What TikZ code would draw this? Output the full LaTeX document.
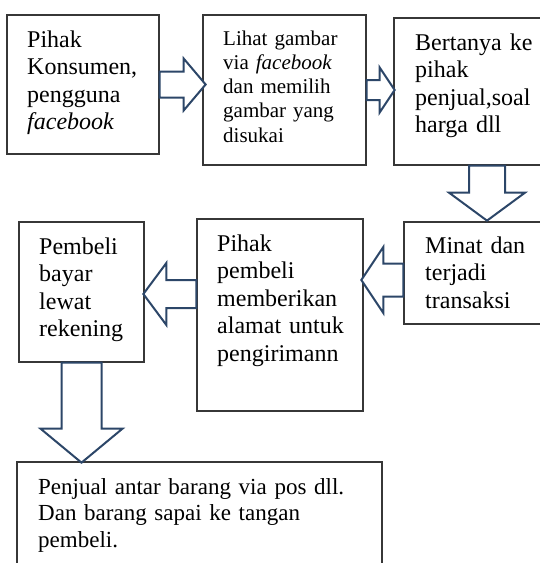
\documentclass[tikz,border=0pt]{standalone}
\usepackage{fontspec}
\setmainfont{Liberation Serif}
\definecolor{arrowblue}{RGB}{44,70,104}
\definecolor{boxgray}{RGB}{55,55,55}
\begin{document}
\begin{tikzpicture}[x=1pt,y=-1pt,
  box/.style={draw=boxgray, line width=1.3pt, fill=white, rectangle, inner sep=0pt},
  txt/.style={anchor=base west, inner sep=0pt, align=left, text width=200pt,
    font=\fontsize{24}{27.5}\selectfont},
  smalltxt/.style={txt, font=\fontsize{21}{24.25}\selectfont},
  blockarrow/.style={draw=arrowblue, line width=2pt, fill=white, line join=miter}]
\useasboundingbox (0,0) rectangle (540,563);
\clip (0,0) rectangle (540,563);

% boxes
\node[box, minimum width=152pt, minimum height=139pt] (b1) at (83,84.5) {};
\node[box, minimum width=163pt, minimum height=150pt] (b2) at (284.5,90) {};
\node[box, minimum width=186pt, minimum height=147pt] (b3) at (487,91.5) {};
\node[box, minimum width=176pt, minimum height=102pt] (b4) at (492,273) {};
\node[box, minimum width=166pt, minimum height=192pt] (b5) at (280,315) {};
\node[box, minimum width=125pt, minimum height=140pt] (b6) at (81.5,292) {};
\node[box, minimum width=365pt, minimum height=138pt] (b7) at (199.5,531) {};

% texts
\node[txt] (t1) at (27,47) {Pihak\\Konsumen,\\pengguna\\\textit{facebook}};
\node[smalltxt] (t2) at (223,45) {Lihat gambar\\via \textit{facebook}\\dan memilih\\gambar yang\\disukai};
\node[txt] (t3) at (415,50) {Bertanya ke\\pihak\\penjual,soal\\harga dll};
\node[txt] (t4) at (425,253) {Minat dan\\terjadi\\transaksi};
\node[txt] (t5) at (217,251) {Pihak\\pembeli\\memberikan\\alamat untuk\\pengirimann};
\node[txt] (t6) at (39,254) {Pembeli\\bayar\\lewat\\rekening};
\node[txt, text width=340pt, font=\fontsize{23}{26.8}\selectfont] (t7) at (38,494) {Penjual antar barang via pos dll.\\Dan barang sapai ke tangan\\pembeli.};

% block arrows
\begin{scope}[shift={(b1.east)}]
  \draw[blockarrow] (0,-13) -- (24,-13) -- (24,-26) -- (46,0) -- (24,26) -- (24,13) -- (0,13) -- cycle;
\end{scope}
\begin{scope}[shift={(b2.east)}]
  \draw[blockarrow] (0,-10) -- (13,-10) -- (13,-22.5) -- (28,0) -- (13,22.5) -- (13,10) -- (0,10) -- cycle;
\end{scope}
\begin{scope}[shift={(b3.south)}]
  \draw[blockarrow] (-18,0) -- (-18,27) -- (-38,27) -- (0,55) -- (38,27) -- (18,27) -- (18,0) -- cycle;
\end{scope}
\begin{scope}[shift={(b4.west)}, yshift=-7pt]
  \draw[blockarrow] (0,-16.5) -- (-20,-16.5) -- (-20,-33) -- (-42,0) -- (-20,33) -- (-20,16.5) -- (0,16.5) -- cycle;
\end{scope}
\begin{scope}[shift={(b5.west)}, yshift=21pt]
  \draw[blockarrow] (0,-14) -- (-30,-14) -- (-30,-31) -- (-53,0) -- (-30,31) -- (-30,14) -- (0,14) -- cycle;
\end{scope}
\begin{scope}[shift={(b6.south)}]
  \draw[blockarrow] (-20,0) -- (-20,66) -- (-41,66) -- (0,100) -- (41,66) -- (20,66) -- (20,0) -- cycle;
\end{scope}
\end{tikzpicture}
\end{document}
